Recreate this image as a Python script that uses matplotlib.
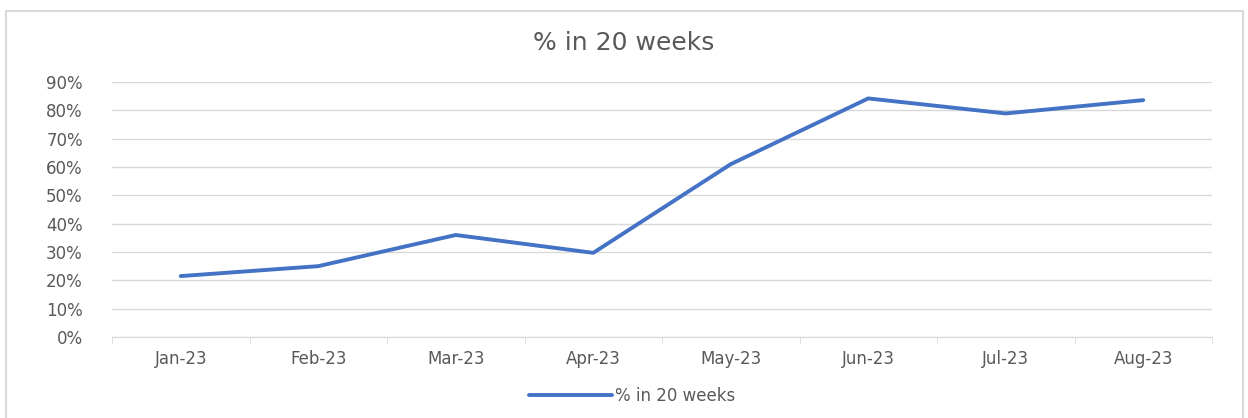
import matplotlib.pyplot as plt
import numpy as np
from matplotlib.patches import Rectangle
from matplotlib.ticker import FuncFormatter

months = ["Jan-23", "Feb-23", "Mar-23", "Apr-23", "May-23", "Jun-23", "Jul-23", "Aug-23"]
pct_20_weeks = [0.215, 0.25, 0.36, 0.297, 0.61, 0.842, 0.789, 0.836]

blue = "#4472C4"
grey_text = "#595959"
grid_col = "#D9D9D9"

fig = plt.figure(figsize=(12.48, 4.18), dpi=100)
ax = fig.add_axes([112 / 1248, 1 - 337 / 418, 1100 / 1248, 255 / 418])

x = np.arange(len(months))
ax.plot(x, pct_20_weeks, color=blue, lw=2.8, solid_capstyle="round",
        solid_joinstyle="round", label="% in 20 weeks")

ax.set_xlim(-0.5, len(months) - 0.5)
ax.set_ylim(0, 0.9)
ax.set_yticks(np.arange(0, 0.91, 0.1))
ax.yaxis.set_major_formatter(FuncFormatter(lambda v, _: f"{v * 100:.0f}%"))
ax.set_xticks(x)
ax.set_xticklabels(months)
ax.set_xticks(np.arange(-0.5, len(months), 1), minor=True)

ax.grid(axis="y", color=grid_col, lw=1)
ax.set_axisbelow(True)
for side in ["top", "right", "left"]:
    ax.spines[side].set_visible(False)
ax.spines["bottom"].set_color(grid_col)
ax.tick_params(axis="y", length=0, labelsize=12, labelcolor=grey_text, pad=21)
ax.tick_params(axis="x", which="major", length=0, labelsize=12, labelcolor=grey_text, pad=9)
ax.tick_params(axis="x", which="minor", length=5, color=grid_col)

fig.suptitle("% in 20 weeks", y=1 - 43 / 418, va="center", fontsize=18, color=grey_text)

fig.legend(loc="center", bbox_to_anchor=(632 / 1248, 1 - 396 / 418), frameon=False,
           fontsize=12, labelcolor=grey_text, handlelength=5, handletextpad=0.2)

# chart frame: left/top/right edges visible, bottom runs off the image
fig.patches.append(Rectangle((6 / 1248, -5 / 418), 1237 / 1248, 412 / 418,
                             transform=fig.transFigure, fill=False,
                             edgecolor=grid_col, lw=1.5))

fig.savefig("out.png", dpi=100)
